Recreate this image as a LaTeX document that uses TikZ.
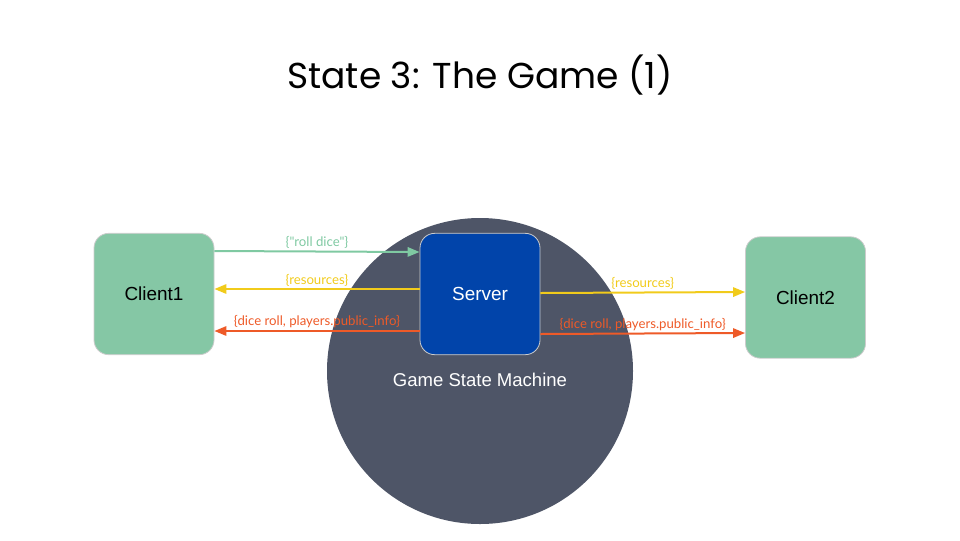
\documentclass[tikz,border=0pt]{standalone}
\usepackage{fontspec}
\setmainfont{Liberation Sans}
\newfontfamily\latofont{Lato}
\newfontfamily\titlefont{Poppins}
\usetikzlibrary{arrows.meta}
\definecolor{clientgreen}{HTML}{85C7A5}
\definecolor{serverblue}{HTML}{0144AA}
\definecolor{gsmgray}{HTML}{4E5567}
\definecolor{msggreen}{HTML}{7FC9A2}
\definecolor{msgyellow}{HTML}{F1CB1B}
\definecolor{msgorange}{HTML}{EE5A28}
\tikzset{
  box/.style={rounded corners=11pt, draw=black!20, line width=0.6pt, minimum width=90pt, minimum height=91pt, font=\fontsize{14.2}{16}\selectfont},
  msg/.style={line width=1.5pt, -{Triangle[length=9pt,width=7pt]}},
  msglabel/.style={font=\latofont\fontsize{9.9}{11}\selectfont, inner sep=1pt, above=0.5pt}
}
\begin{document}
\begin{tikzpicture}[x=0.75pt,y=-0.75pt]
        \useasboundingbox (0,0) rectangle (960,540);
        \node[font=\titlefont\fontsize{27}{32}\selectfont] (titolo) at (480,75) {State 3: The Game (1)}; % titolo
        \fill[gsmgray] (480,371) circle (153); % macchina a stati
        \node[text=white, font=\fontsize{13.9}{16}\selectfont] (gsm) at (480,380) {Game State Machine};
        \node[box, fill=clientgreen] (client1) at (154,294) {Client1}; % primo client
        \node[box, fill=serverblue, text=white] (server) at (480,294) {Server}; % server
        \node[box, fill=clientgreen] (client2) at (805.5,297.5) {Client2}; % secondo client
        \draw[msg, msggreen] ([yshift=32.25pt]client1.east) -- ([yshift=31.5pt]server.west) node[msglabel, midway, text=msggreen] {\{"roll dice"\}}; % richiesta
        \draw[msg, msgyellow] ([yshift=3.75pt]server.west) -- ([yshift=3.75pt]client1.east) node[msglabel, midway, text=msgyellow] {\{resources\}};
        \draw[msg, msgorange] ([yshift=-27.75pt]server.west) -- ([yshift=-27.75pt]client1.east) node[msglabel, midway, text=msgorange] {\{dice roll, players.public\_info\}};
        \draw[msg, msgyellow] ([yshift=0.75pt]server.east) -- ([yshift=4.125pt]client2.west) node[msglabel, midway, text=msgyellow] {\{resources\}};
        \draw[msg, msgorange] ([yshift=-30pt]server.east) -- ([yshift=-26.625pt]client2.west) node[msglabel, midway, text=msgorange] {\{dice roll, players.public\_info\}};
    \end{tikzpicture}
\end{document}
